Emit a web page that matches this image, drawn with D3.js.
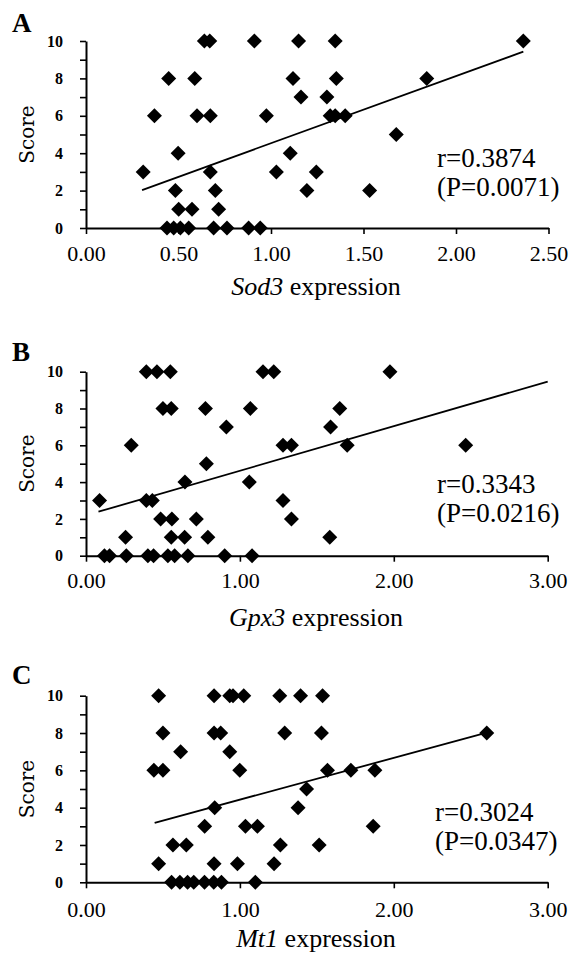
<!DOCTYPE html>
<html>
<head>
<meta charset="utf-8">
<script src="https://cdn.jsdelivr.net/npm/d3@7"></script>
<style>
  body { margin: 0; background: #fff; }
  svg { display: block; }
  .axis path, .axis line { stroke: #000; }
</style>
</head>
<body>
<div id="chart"></div>
<script>
// ---- data ----
var scoreTicks = [0, 1, 2, 3, 4, 5, 6, 7, 8, 9, 10]

// A: Sod3
var sod3X = [0.640, 0.669, 0.910, 1.149, 1.347, 2.364,
             0.447, 0.588, 1.119, 1.353, 1.842,
             1.162, 1.302,
             0.370, 0.600, 0.672, 0.975, 1.320, 1.347, 1.401,
             1.677,
             0.498, 1.104,
             0.309, 0.672, 1.029, 1.245,
             0.483, 0.699, 1.194, 1.533,
             0.501, 0.573, 0.717,
             0.438, 0.474, 0.510, 0.555, 0.690, 0.762, 0.879, 0.942]
var sod3Score = [10, 10, 10, 10, 10, 10,
                 8, 8, 8, 8, 8,
                 7, 7,
                 6, 6, 6, 6, 6, 6, 6,
                 5,
                 4, 4,
                 3, 3, 3, 3,
                 2, 2, 2, 2,
                 1, 1, 1,
                 0, 0, 0, 0, 0, 0, 0, 0]
var sod3Fit = [[0.303, 2.03], [2.364, 9.43]]
var sod3Ticks = [0, 0.5, 1.0, 1.5, 2.0, 2.5]

// B: Gpx3
var gpx3X = [0.392, 0.461, 0.548, 1.150, 1.220, 1.975,
             0.500, 0.554, 0.776, 1.068, 1.649,
             0.912, 1.589,
             0.294, 1.280, 1.335, 1.697, 2.467,
             0.782,
             0.643, 1.061,
             0.088, 0.392, 0.431, 1.280,
             0.485, 0.558, 0.717, 1.335,
             0.257, 0.554, 0.641, 0.792, 1.584,
             0.120, 0.153, 0.262, 0.402, 0.439, 0.532, 0.576, 0.662, 0.901, 1.079]
var gpx3Score = [10, 10, 10, 10, 10, 10,
                 8, 8, 8, 8, 8,
                 7, 7,
                 6, 6, 6, 6, 6,
                 5,
                 4, 4,
                 3, 3, 3, 3,
                 2, 2, 2, 2,
                 1, 1, 1, 1, 1,
                 0, 0, 0, 0, 0, 0, 0, 0, 0, 0]
var gpx3Fit = [[0.081, 2.39], [3.0, 9.46]]
var gpx3Ticks = [0, 1, 2, 3]

// C: Mt1
var mt1X = [0.472, 0.832, 0.934, 0.955, 1.025, 1.259, 1.394, 1.537,
            0.500, 0.832, 0.875, 1.291, 1.530, 2.604,
            0.615, 0.934,
            0.441, 0.500, 0.999, 1.569, 1.721, 1.877,
            1.433,
            0.836, 1.378,
            0.771, 1.036, 1.114, 1.866,
            0.565, 0.652, 1.263, 1.515,
            0.472, 0.832, 0.984, 1.222,
            0.556, 0.610, 0.660, 0.700, 0.770, 0.830, 0.880, 1.100]
var mt1Score = [10, 10, 10, 10, 10, 10, 10, 10,
                8, 8, 8, 8, 8, 8,
                7, 7,
                6, 6, 6, 6, 6, 6,
                5,
                4, 4,
                3, 3, 3, 3,
                2, 2, 2, 2,
                1, 1, 1, 1,
                0, 0, 0, 0, 0, 0, 0, 0]
var mt1Fit = [[0.446, 3.19], [2.604, 8.02]]
var mt1Ticks = [0, 1, 2, 3]

var panelLetters = ["A", "B", "C"]
var geneNames = ["Sod3", "Gpx3", "Mt1"]
var rValues = ["0.3874", "0.3343", "0.3024"]
var pValues = ["0.0071", "0.0216", "0.0347"]

// ---- drawing ----
var W = 579, H = 955
var svg = d3.select("#chart").append("svg")
    .attr("width", W)
    .attr("height", H)
    .style("background", "#fff")

var serif = "'Liberation Serif', 'Times New Roman', serif"

// one scatter panel
function panel(opt){
    var x = d3.scaleLinear().domain([0, opt.xTicks[opt.xTicks.length-1]]).range([86, opt.xRight])
    var y = d3.scaleLinear().domain([0, 10]).range([opt.y0, opt.y10])
    var g = svg.append("g")

    // panel letter
    g.append("text")
        .attr("x", 12).attr("y", opt.letterY)
        .attr("font-family", serif).attr("font-weight", "bold")
        .attr("font-size", 27)
        .text(opt.letter)

    // y axis
    var ya = g.append("g").attr("class", "axis")
        .attr("transform", "translate(86,0)")
        .call(d3.axisLeft(y).tickValues(scoreTicks).tickSize(6).tickSizeOuter(0).tickPadding(17)
            .tickFormat(function(d){ return d % 2 == 0 ? d : "" }))
    ya.select("path.domain").attr("stroke-width", 2)
    ya.selectAll("line").attr("stroke-width", 1.6)
    ya.selectAll("text")
        .attr("font-family", serif).attr("font-weight", "bold")
        .attr("font-size", 16).attr("fill", "#000")

    // x axis
    var xa = g.append("g").attr("class", "axis")
        .attr("transform", "translate(0," + opt.y0 + ")")
        .call(d3.axisBottom(x).tickValues(opt.xTicks).tickSize(6).tickSizeOuter(0)
            .tickFormat(d3.format(".2f")))
    xa.select("path.domain").attr("stroke-width", 2)
    xa.selectAll("line").attr("stroke-width", 1.6)
    xa.selectAll("text")
        .attr("y", opt.tickLabelDy).attr("dy", 0)
        .attr("font-family", serif).attr("font-size", 22).attr("fill", "#000")

    // y title
    g.append("text")
        .attr("transform", "translate(34," + ((opt.y0 + opt.y10) / 2) + ") rotate(-90)")
        .attr("text-anchor", "middle")
        .attr("font-family", "'DejaVu Serif', serif")
        .attr("font-size", 20)
        .text("Score")

    // x title
    var xt = g.append("text")
        .attr("x", 316).attr("y", opt.y0 + opt.titleDy)
        .attr("text-anchor", "middle")
        .attr("font-family", serif).attr("font-size", 26)
    xt.append("tspan").attr("font-style", "italic").text(opt.gene)
    xt.append("tspan").text(" expression")

    // trend line
    g.append("line")
        .attr("x1", x(opt.fit[0][0])).attr("y1", y(opt.fit[0][1]))
        .attr("x2", x(opt.fit[1][0])).attr("y2", y(opt.fit[1][1]))
        .attr("stroke", "#000").attr("stroke-width", 1.8)

    // diamonds
    var s = 7.5
    var diamond = "M0," + (-s) + "L" + s + ",0L0," + s + "L" + (-s) + ",0Z"
    g.selectAll("path.pt")
        .data(opt.xs.map(function(v, i){ return [v, opt.ys[i]] }))
        .enter().append("path")
        .attr("class", "pt")
        .attr("d", diamond)
        .attr("transform", function(d){ return "translate(" + x(d[0]) + "," + y(d[1]) + ")" })
        .attr("fill", "#000")

    // stats
    var st = g.append("text")
        .attr("font-family", serif).attr("font-size", 27)
    st.append("tspan").attr("x", opt.statX).attr("y", opt.statY).text("r=" + opt.r)
    st.append("tspan").attr("x", opt.statX).attr("y", opt.statY + 29).text("(P=" + opt.p + ")")
}

panel({letter: panelLetters[0], letterY: 32, gene: geneNames[0], xs: sod3X, ys: sod3Score, fit: sod3Fit,
       xTicks: sod3Ticks, xRight: 548.5, y0: 228, y10: 41, tickLabelDy: 33, titleDy: 67,
       r: rValues[0], p: pValues[0], statX: 437, statY: 167})

panel({letter: panelLetters[1], letterY: 361, gene: geneNames[1], xs: gpx3X, ys: gpx3Score, fit: gpx3Fit,
       xTicks: gpx3Ticks, xRight: 547.7, y0: 555.7, y10: 371.7, tickLabelDy: 32, titleDy: 70,
       r: rValues[1], p: pValues[1], statX: 437, statY: 493})

panel({letter: panelLetters[2], letterY: 684, gene: geneNames[2], xs: mt1X, ys: mt1Score, fit: mt1Fit,
       xTicks: mt1Ticks, xRight: 547.7, y0: 882.3, y10: 695.7, tickLabelDy: 35, titleDy: 65,
       r: rValues[2], p: pValues[2], statX: 435, statY: 821})
</script>
</body>
</html>
